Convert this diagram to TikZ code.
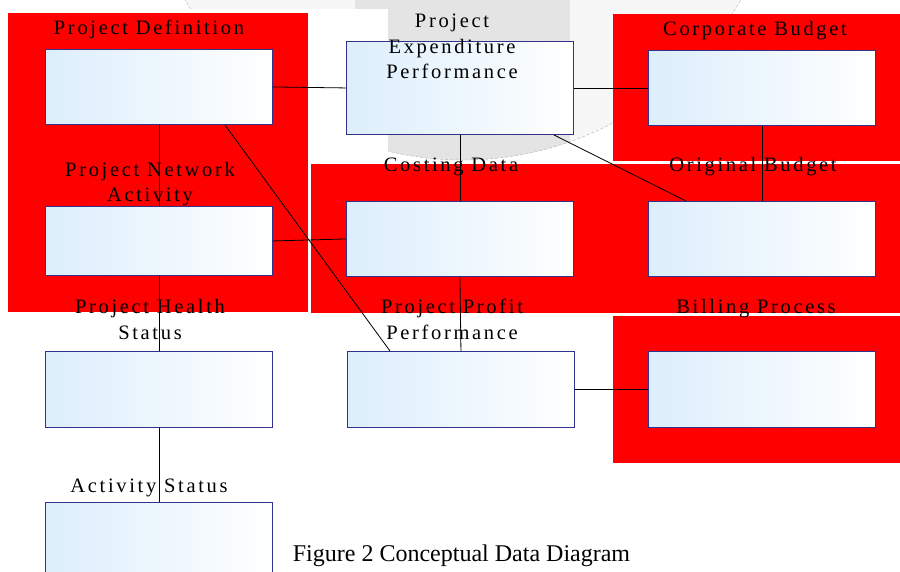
\documentclass[tikz,border=0pt]{standalone}
\usepackage{fontspec}
\setmainfont{Liberation Serif}
\newfontfamily\lblfont[LetterSpace=13]{Liberation Serif}
\definecolor{boxblue}{RGB}{220,238,252}
\definecolor{boxline}{RGB}{50,50,140}
\tikzset{
 entity/.style={draw=boxline,line width=0.9pt,left color=boxblue,right color=white,minimum width=227pt,minimum height=75pt,inner sep=0pt,anchor=north west},
 lbl/.style={font=\lblfont\fontsize{20.5}{25.5}\selectfont,align=center,inner sep=0pt,anchor=base},
 link/.style={black,line width=0.8pt}
}
\begin{document}
\begin{tikzpicture}[x=1pt,y=-1pt]
 \useasboundingbox (0,0) rectangle (900,572);
 \fill[white] (0,0) rectangle (900,572);
 \fill[gray!6] (463,-161) circle[radius=321pt];
 \begin{scope}
 \clip (463,-161) circle[radius=321pt];
 \fill[gray!21] (355,0) rectangle (570,200);
 \end{scope}
 \draw[gray!60,densely dashed] (463,-161) circle[radius=321pt];
 \fill[white] (0,9) rectangle (388,164);
 \fill[red] (8,13) rectangle (308,312);
 \fill[red] (311,164) rectangle (900,313);
 \fill[red] (613,14) rectangle (900,161);
 \fill[red] (613,316) rectangle (900,463);
 \node[entity] (defbox) at (45,49) {};
 \node[entity,minimum height=93pt] (expbox) at (346,41) {};
 \node[entity] (corpbox) at (648,50) {};
 \node[entity,minimum height=69pt] (netbox) at (45,206) {};
 \node[entity] (costbox) at (346,201) {};
 \node[entity] (origbox) at (648,201) {};
 \node[entity,minimum height=76pt] (healthbox) at (45,351) {};
 \node[entity,minimum height=76pt] (profitbox) at (347,351) {};
 \node[entity,minimum height=76pt] (billbox) at (648,351) {};
 \node[entity,minimum height=100pt] (actbox) at (45,502) {};
 \node[lbl] (deflbl) at (149,35) {Project Definition};
 \node[lbl] (explbl) at (452,79) {Project\\Expenditure\\Performance};
 \node[lbl] (corplbl) at (755,36) {Corporate Budget};
 \node[lbl] (netlbl) at (150,202) {Project Network\\Activity};
 \node[lbl] (costlbl) at (451,172) {Costing Data};
 \node[lbl] (origlbl) at (753,172) {Original Budget};
 \node[lbl] (healthlbl) at (150,339) {Project Health\\Status};
 \node[lbl] (profitlbl) at (452,339) {Project Profit\\Performance};
 \node[lbl] (billlbl) at (756,313) {Billing Process};
 \node[lbl] (actlbl) at (149,492) {Activity Status};
 \node[font=\fontsize{24}{28}\selectfont,anchor=base,inner sep=0pt] (caption) at (461.5,561) {Figure 2 Conceptual Data Diagram};
 \draw[link] (defbox.east) -- (expbox.west);
 \draw[link] (expbox.east) -- (corpbox.west);
 \draw[link] (defbox.south) -- (netbox.north);
 \draw[link] ([xshift=-48pt]defbox.south east) -- ([xshift=43pt]profitbox.north west);
 \draw[link] (expbox.south) -- (costbox.north);
 \draw[link] ([xshift=-20pt]expbox.south east) -- ([xshift=38pt]origbox.north west);
 \draw[link] (corpbox.south) -- (origbox.north);
 \draw[link] (netbox.east) -- (costbox.west);
 \draw[link] (netbox.south) -- (healthbox.north);
 \draw[link] (costbox.south) -- (profitbox.north);
 \draw[link] (profitbox.east) -- (billbox.west);
 \draw[link] (healthbox.south) -- (actbox.north);
\end{tikzpicture}
\end{document}
